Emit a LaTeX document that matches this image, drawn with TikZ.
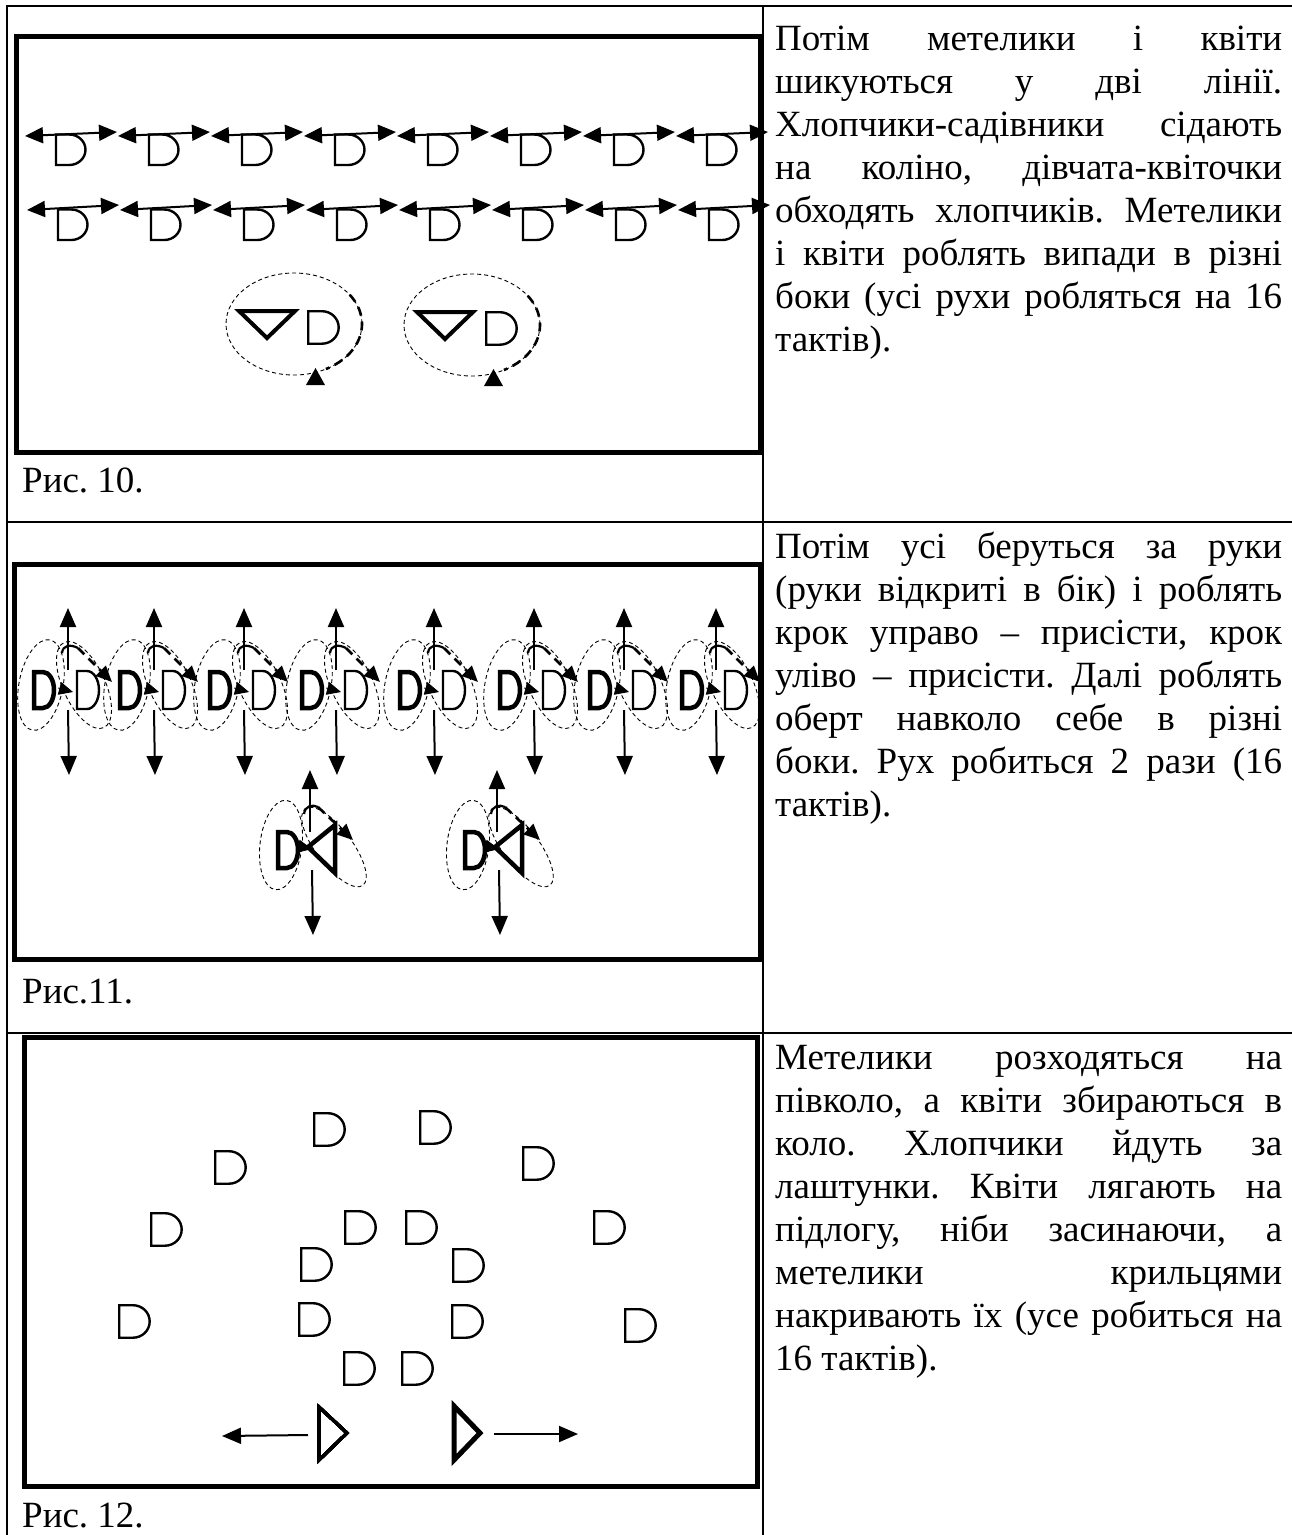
\documentclass[tikz,border=0pt]{standalone}
\usepackage{fontspec}
\setmainfont{Liberation Serif}
\usetikzlibrary{arrows.meta}
\frenchspacing

\tikzset{
  tableline/.style={line width=2pt},
  boxline/.style={line width=5pt},
  dee/.style={line width=2.4pt},
  boldee/.style={line width=4.5pt},
  arw/.style={line width=2pt,-{Triangle[length=19pt,width=16pt]}},
  darw/.style={line width=2pt,{Triangle[length=18pt,width=16pt]}-{Triangle[length=18pt,width=16pt]}},
  tipr/.style={line width=0.8pt,-{Triangle[length=14pt,width=13pt]}},
  thindash/.style={line width=0.9pt,dash pattern=on 4pt off 3pt},
  thickdash/.style={line width=2.6pt,dash pattern=on 9pt off 6pt},
  txt/.style={anchor=base west,inner sep=0pt,font=\fontsize{37}{43}\selectfont},
}
% D-shaped dancer: [style]{left}{top}{width}{height}
\newcommand{\flower}[5][dee]{%
  \draw[#1] (#2,#3) -- ++({0.45*#4},0)
    .. controls +({0.304*#4},0) and +(0,{-0.276*#5}) .. ++({0.55*#4},{0.5*#5})
    .. controls +(0,{0.276*#5}) and +({0.304*#4},0) .. ++({-0.55*#4},{0.5*#5})
    -- ++({-0.45*#4},0) -- cycle;}
\newcommand{\jline}[1]{\makebox[507pt][s]{#1}}

\begin{document}
\begin{tikzpicture}[x=1pt,y=-1pt]
    \fill[white] (0,0) rectangle (1292,1535);
    \useasboundingbox (0,0) rectangle (1292,1535);
    % Table
    \draw[tableline] (7,1535) -- (7,6) -- (1292,6);
    \draw[tableline] (763,6) -- (763,1535);
    \draw[tableline] (7,522) -- (1292,522);
    \draw[tableline] (7,1033) -- (1292,1033);
    % Stage frames
    \draw[boxline] (16,36) rectangle (760,452);
    \draw[boxline] (14,564) rectangle (760,959);
    \draw[boxline] (24,1037) rectangle (757,1486);
    % Fig. 10: two lines with arrows
    \foreach \i in {0,...,7}{
      \pgfmathsetmacro{\cx}{71+93*\i}
      \pgfmathsetmacro{\cy}{73+93*\i}
      \draw[darw] (\cx-46,136) -- (\cx+46,132);
      \flower{\cx-15}{134.5}{29.5}{30.5}
      \draw[darw] (\cy-46,210) -- (\cy+46,205);
      \flower{\cy-15}{209.5}{29.5}{30.5}
    }
    % Fig. 10: couples turning
    \foreach \dx/\dy in {0/0,178/1}{
      \begin{scope}[shift={(\dx,\dy)}]
        \draw[thindash] (294,324) ellipse [x radius=68,y radius=51];
        \draw[thickdash] (294,324) ++(-35:68 and 51) arc[start angle=-35,end angle=62,x radius=68,y radius=51];
        \draw[line width=4pt] (239,311) -- (295,311) -- (267,338) -- cycle;
        \flower{308.2}{311.2}{30.5}{32.5}
        \fill (306,385) -- (325,385) -- (315.5,368) -- cycle;
      \end{scope}
    }
    \node[txt] (cap10) at (22,492) {Рис. 10.};
    % Fig. 11: pairs in a row
    \foreach \bx in {32,118,208,300,398,498,588,680}{
      \draw[thindash,rotate around={-11:(\bx+9,685)}] (\bx+9,685) ellipse [x radius=22,y radius=46];
      \draw[thindash,rotate around={25:(\bx+52,685)}] (\bx+52,685) ellipse [x radius=21,y radius=47];
      \flower[boldee]{\bx+2}{672}{20}{36}
      \flower{\bx+45}{671}{22}{38}
      \draw[arw] (\bx+36,670) -- (\bx+36,608);
      \draw[arw] (\bx+36,710) -- (\bx+37,775);
      \draw[line width=2.2pt] (\bx+30,653) .. controls (\bx+31,645) and (\bx+38,644) .. (\bx+46,648);
      \draw[thickdash,-{Triangle[length=16pt,width=14pt]}] (\bx+46,648) -- (\bx+80,682);
      \draw[tipr] (\bx+26,688) -- (\bx+41,692);
    }
    % Fig. 11: boy and flower
    \foreach \gx in {310,497}{
      \draw[thindash,rotate around={-7:(\gx-29,845)}] (\gx-29,845) ellipse [x radius=21,y radius=45];
      \draw[thindash,rotate around={37:(\gx+24,847)}] (\gx+24,847) ellipse [x radius=18,y radius=48];
      \flower[boldee]{\gx-32}{832}{20}{36}
      \draw[boldee] (\gx-2,847) -- (\gx+25,825) -- (\gx+25,873) -- cycle;
      \draw[arw] (\gx,832) -- (\gx,770);
      \draw[arw] (\gx+2,870) -- (\gx+3,935);
      \draw[line width=2.2pt] (\gx-6,814) .. controls (\gx-5,806) and (\gx+2,804) .. (\gx+8,807);
      \draw[thickdash,-{Triangle[length=16pt,width=14pt]}] (\gx+8,807) -- (\gx+43,840);
      \draw[tipr] (\gx-13,846) -- (\gx+2,849);
    }
    \node[txt] (cap11) at (22,1003) {Рис.11.};
    % Fig. 12: half circle and circle
    \foreach \x/\y in {313/1112,419/1110,214/1150,522/1146,150/1212,344/1210,405/1210,593/1210,
                       300/1247,452/1248,118/1304,298/1302,451/1304,624/1308,343/1351,401/1351}
      \flower{\x+1.2}{\y+1.2}{30.5}{32.5}
    \draw[line width=3pt] (319,1407) -- (347,1433) -- (319,1460) -- cycle;
    \draw[line width=5pt] (454,1406) -- (480,1433) -- (454,1460) -- cycle;
    \draw[arw] (308,1435) -- (222,1436);
    \draw[arw] (494,1434) -- (578,1434);
    \node[txt] (cap12) at (22,1527) {Рис. 12.};
    % Text column
    \foreach \ln [count=\i] in {{Потім метелики і квіти},{шикуються у дві лінії.},
        {Хлопчики-садівники сідають},{на коліно, дівчата-квіточки},
        {обходять хлопчиків. Метелики},{і квіти роблять випади в різні},
        {боки (усі рухи робляться на 16}}
      \node[txt] (ta\i) at (775,{7+43*\i}) {\jline{\ln}};
    \node[txt] (ta8) at (775,351) {тактів).};
    \foreach \ln [count=\i] in {{Потім усі беруться за руки},{(руки відкриті в бік) і роблять},
        {крок управо – присісти, крок},{уліво – присісти. Далі роблять},
        {оберт навколо себе в різні},{боки. Рух робиться 2 рази (16}}
      \node[txt] (tb\i) at (775,{515+43*\i}) {\jline{\ln}};
    \node[txt] (tb7) at (775,816) {тактів).};
    \foreach \ln [count=\i] in {{Метелики розходяться на},{півколо, а квіти збираються в},
        {коло. Хлопчики йдуть за},{лаштунки. Квіти лягають на},
        {підлогу, ніби засинаючи, а},{метелики крильцями},
        {накривають їх (усе робиться на}}
      \node[txt] (tc\i) at (775,{1026+43*\i}) {\jline{\ln}};
    \node[txt] (tc8) at (775,1370) {16 тактів).};
\end{tikzpicture}
\end{document}
